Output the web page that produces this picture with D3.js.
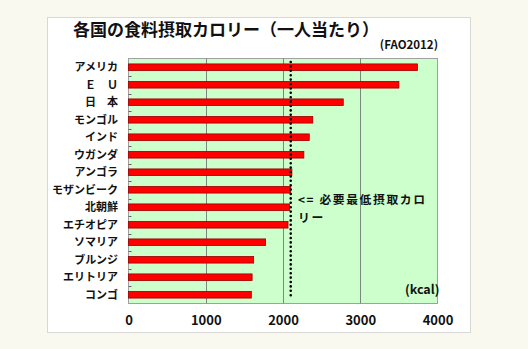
<!DOCTYPE html>
<html><head><meta charset="utf-8">
<script src="https://cdn.jsdelivr.net/npm/d3@7"></script>
<style>
html,body{margin:0;padding:0;background:#f9f9ef;}
svg{display:block;}
text{font-family:"Noto Sans CJK JP","Noto Sans",sans-serif;font-weight:bold;fill:#111;}
</style></head>
<body>
<script>
const categories = ["アメリカ","Ｅ　Ｕ","日　本","モンゴル","インド","ウガンダ","アンゴラ","モザンビーク","北朝鮮","エチオピア","ソマリア","ブルンジ","エリトリア","コンゴ"];
const values = [3740, 3500, 2780, 2385, 2340, 2270, 2115, 2100, 2085, 2065, 1775, 1620, 1600, 1590];
const xTicks = [0, 1000, 2000, 3000, 4000];
const minimumIntake = 2100;
const title = "各国の食料摂取カロリー（一人当たり）";
const source = "(FAO2012)";
const noteLines = ["<= 必要最低摂取カロ", "リー"];
const unit = "(kcal)";

const W = 528, H = 349;
const svg = d3.select("body").append("svg").attr("width", W).attr("height", H);
svg.append("rect").attr("width", W).attr("height", H).attr("fill", "#f9f9ef");
svg.append("rect").attr("x", 47.5).attr("y", 17.5).attr("width", 423).attr("height", 315)
  .attr("fill", "#ffffff").attr("stroke", "#d8d8d8");

const plot = {left: 128.5, right: 437.5, top: 58.5, bottom: 303.5};
const x = d3.scaleLinear().domain([0, 4000]).range([plot.left, plot.right]);
const y = d3.scaleBand().domain(categories).range([plot.top, plot.bottom]).paddingInner(0.62).paddingOuter(0.31);

svg.append("rect").attr("x", plot.left).attr("y", plot.top)
  .attr("width", plot.right - plot.left).attr("height", plot.bottom - plot.top)
  .attr("fill", "#ccffcc").attr("stroke", "#a0a0a0");

// gridlines
svg.append("g").selectAll("line").data(xTicks.slice(1, -1)).join("line")
  .attr("x1", d => Math.round(x(d)) + 0.5).attr("x2", d => Math.round(x(d)) + 0.5)
  .attr("y1", plot.top).attr("y2", plot.bottom)
  .attr("stroke", "#7a8a7a").attr("stroke-width", 1);

// left axis minor ticks at band boundaries
const step = (plot.bottom - plot.top) / categories.length;
const tickYs = d3.range(1, categories.length).map(i => plot.top + i * step);
svg.append("g").selectAll("line").data(tickYs).join("line")
  .attr("x1", plot.left).attr("x2", plot.left + 3)
  .attr("y1", d => Math.round(d) + 0.5).attr("y2", d => Math.round(d) + 0.5)
  .attr("stroke", "#666");

// bars
svg.append("g").selectAll("rect").data(values).join("rect")
  .attr("x", x(0))
  .attr("y", (d, i) => y(categories[i]))
  .attr("width", d => x(d) - x(0))
  .attr("height", y.bandwidth())
  .attr("fill", "#ff0000").attr("stroke", "#990000").attr("stroke-width", 0.8);

// dotted reference line
svg.append("line")
  .attr("x1", x(minimumIntake)).attr("x2", x(minimumIntake))
  .attr("y1", 62).attr("y2", 297)
  .attr("stroke", "#000").attr("stroke-width", 2.6)
  .attr("stroke-dasharray", "0 4.4").attr("stroke-linecap", "round");

// y labels
svg.append("g").selectAll("text").data(categories).join("text")
  .attr("x", 118).attr("y", d => y(d) + y.bandwidth() / 2)
  .attr("dy", "0.36em").attr("text-anchor", "end")
  .attr("font-size", 11).text(d => d);

// x axis labels
const xAxis = d3.axisBottom(x).tickValues(xTicks).tickFormat(d3.format("d")).tickSize(0).tickPadding(12);
const gx = svg.append("g").attr("transform", `translate(0,${plot.bottom})`).call(xAxis);
gx.select(".domain").remove();
gx.selectAll("text").attr("font-size", 13).attr("font-family", "Lato, 'Noto Sans', sans-serif").attr("fill", "#111").attr("font-weight", "bold");

// title
svg.append("text").attr("x", 73).attr("y", 36).attr("font-size", 17).text(title);
svg.append("text").attr("x", 438).attr("y", 49).attr("text-anchor", "end")
  .attr("font-size", 11.5).attr("font-family", "Lato, sans-serif").text(source);

// note (two lines)
svg.append("g").selectAll("text").data(noteLines).join("text")
  .attr("x", 298).attr("y", (d, i) => 204 + i * 17.5)
  .attr("font-size", 11.8).attr("letter-spacing", 1.6).text(d => d);

svg.append("text").attr("x", 405).attr("y", 294).attr("font-size", 12.5)
  .attr("font-family", "Lato, sans-serif").text(unit);
</script>
</body></html>
